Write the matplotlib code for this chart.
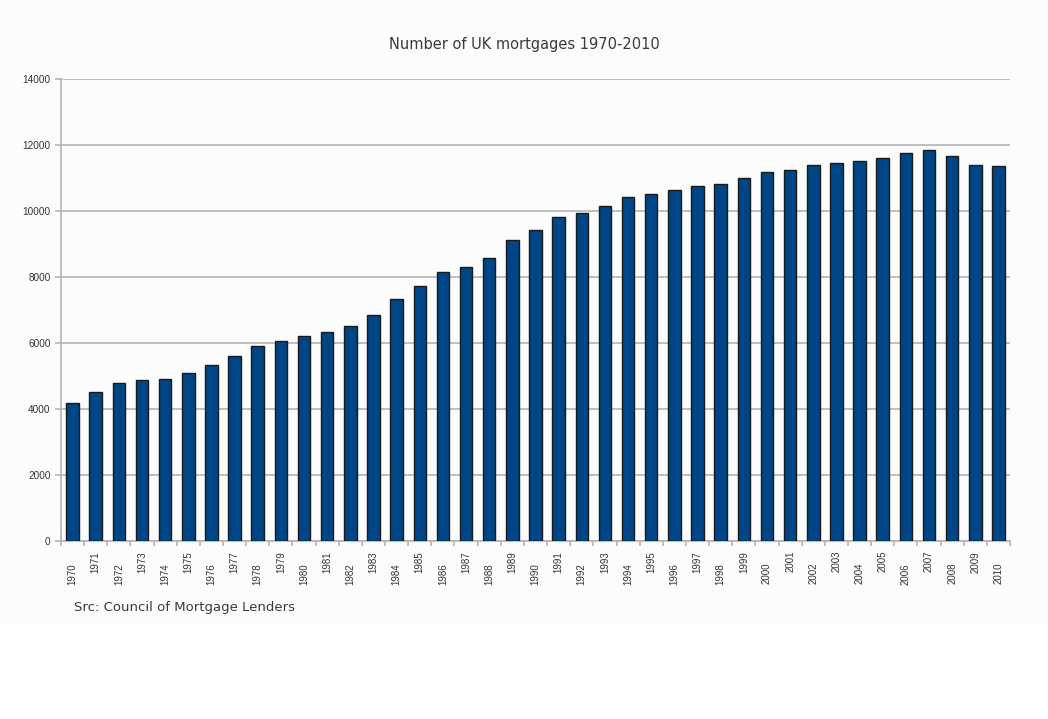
import matplotlib
matplotlib.use("Agg")
import matplotlib.pyplot as plt
from matplotlib.patches import Rectangle

years = list(range(1970, 2011))
mortgages = [4170, 4510, 4790, 4880, 4910, 5090, 5320, 5600, 5910, 6060,
             6210, 6320, 6520, 6850, 7340, 7730, 8160, 8300, 8580, 9120,
             9420, 9820, 9940, 10160, 10430, 10520, 10640, 10760, 10830, 11000,
             11180, 11240, 11400, 11460, 11520, 11600, 11760, 11850, 11680, 11400,
             11370]
yticks = [0, 2000, 4000, 6000, 8000, 10000, 12000, 14000]
title = "Number of UK mortgages 1970-2010"
source = "Src: Council of Mortgage Lenders"

W, H = 1048, 719
fig = plt.figure(figsize=(W / 100, H / 100), dpi=100)
fig.patch.set_facecolor("white")
fig.patches.append(Rectangle((0, 1 - 625 / H), 1, 625 / H, transform=fig.transFigure,
                             facecolor="#fcfcfc", edgecolor="none", zorder=-10))

ax = fig.add_axes([61 / W, 1 - 541 / H, (1010 - 61) / W, (541 - 79) / H])
ax.set_facecolor("none")
grey = "#b3b3b3"

x = list(range(len(years)))
ax.bar(x, mortgages, width=0.54, color="#004586", edgecolor="#1a1a1a",
       linewidth=1.0, zorder=3)

ax.set_xlim(-0.5, len(years) - 0.5)
ax.set_ylim(0, 14000)
ax.set_yticks(yticks)
ax.set_yticklabels([str(v) for v in yticks], fontsize=7.2, family="Liberation Sans",
                   color="#333333")
ax.yaxis.grid(True, color=grey, linewidth=1.2, zorder=0)
ax.set_axisbelow(True)
ax.tick_params(axis="y", length=4.5, width=1.2, color=grey, pad=3)

for s in ["top", "right"]:
    ax.spines[s].set_visible(False)
for s in ["left", "bottom"]:
    ax.spines[s].set_color(grey)
    ax.spines[s].set_linewidth(1.2)

ax.set_xticks([i - 0.5 for i in range(len(years) + 1)])
ax.set_xticklabels([])
ax.tick_params(axis="x", length=3.5, width=1.2, color=grey)

trans = ax.get_xaxis_transform()
for i, yr in enumerate(years):
    off = 10 if i % 2 == 1 else 22
    ax.text(i, -off / 462, str(yr), rotation=90, ha="center", va="top",
            fontsize=7.0, family="Liberation Sans", color="#333333",
            transform=trans)

fig.text(0.5, 1 - 44 / H, title, ha="center", va="center", fontsize=10.5,
         family="DejaVu Sans", color="#3a3a3a")
fig.text(74 / W, 1 - 608 / H, source, ha="left", va="center", fontsize=9.5,
         family="DejaVu Sans", color="#3a3a3a")

fig.savefig("out.png", dpi=100)
